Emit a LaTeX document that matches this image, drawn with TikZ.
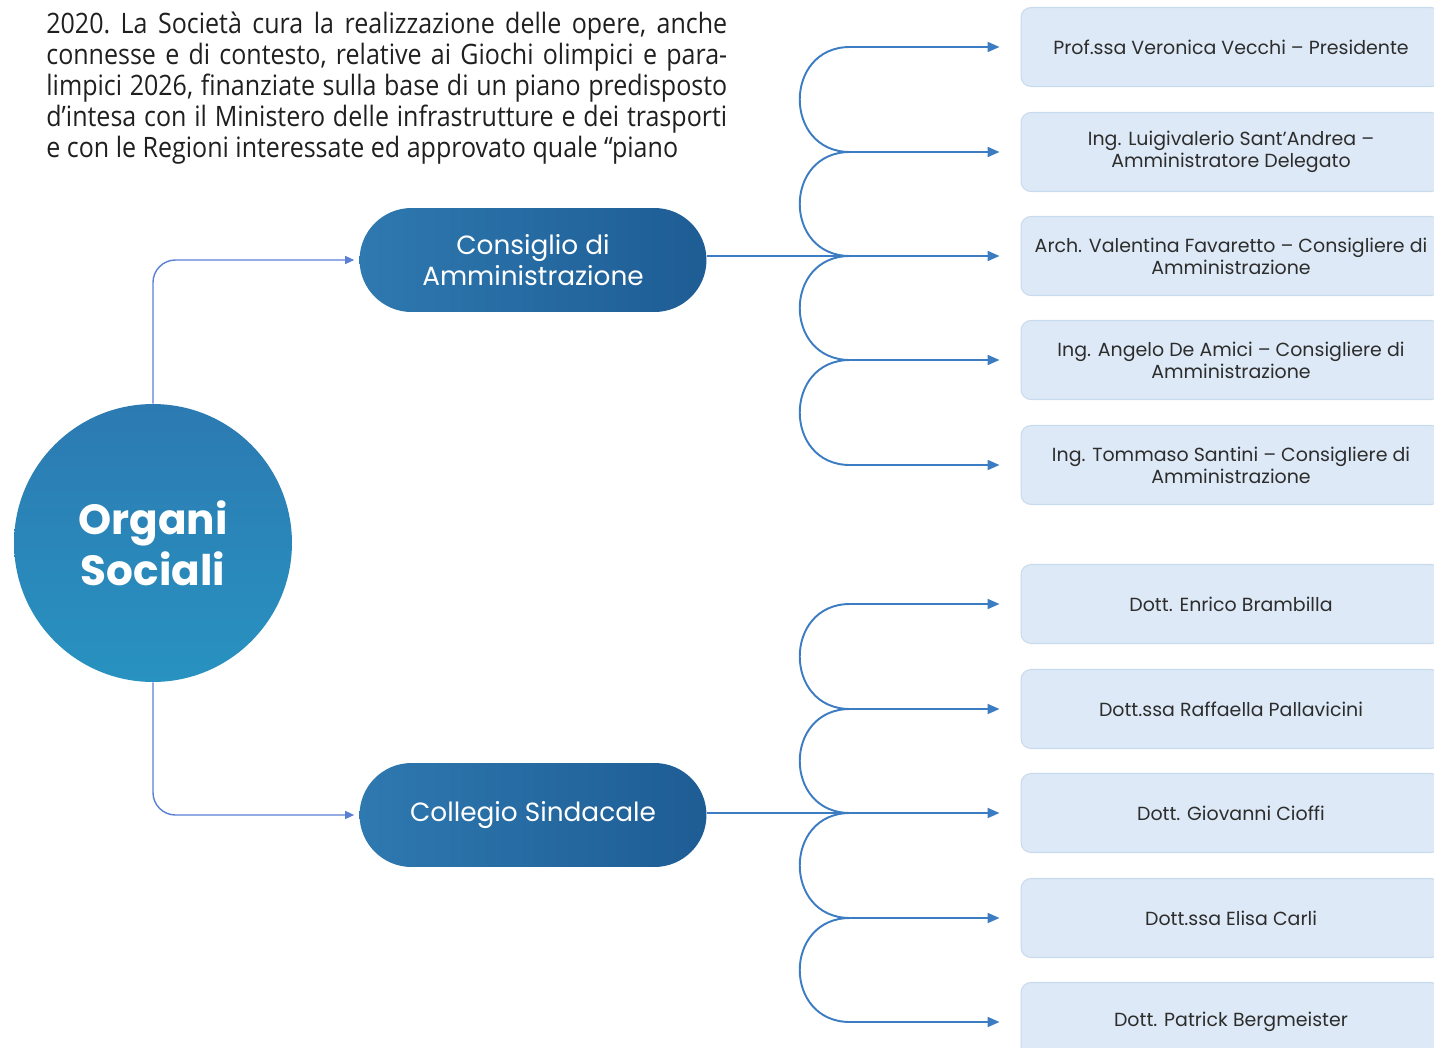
\documentclass[tikz,border=0pt]{standalone}
\usepackage{fontspec}
\setmainfont{Poppins}
\newfontfamily\parafont[FakeStretch=0.89]{Open Sans}
\usetikzlibrary{arrows.meta, positioning, calc}
\definecolor{linkblue}{RGB}{60,124,194}
\definecolor{feedblue}{RGB}{90,127,212}
\definecolor{pillleft}{RGB}{46,121,176}
\definecolor{pillright}{RGB}{30,92,148}
\definecolor{orbtop}{RGB}{44,122,178}
\definecolor{orbbottom}{RGB}{40,146,192}
\definecolor{memberfill}{RGB}{221,233,246}
\definecolor{memberdraw}{RGB}{200,219,238}
\definecolor{inkgray}{RGB}{45,45,45}

\begin{document}
\begin{tikzpicture}[
			x=0.02cm, y=-0.02cm,
			orb/.style={circle, minimum size=5.56cm, inner sep=0pt, top color=orbtop, bottom color=orbbottom, text=white, align=center, font=\fontsize{24}{29}\selectfont\bfseries},
			pill/.style={rectangle, rounded corners=1.04cm, minimum width=6.94cm, minimum height=2.08cm, left color=pillleft, right color=pillright, text=white, align=center, font=\fontsize{15}{17.6}\selectfont},
			member/.style={rectangle, rounded corners=0.2cm, minimum width=8.4cm, minimum height=1.58cm, fill=memberfill, draw=memberdraw, line width=0.6pt, text=inkgray, align=center, font=\fontsize{10.8}{12.5}\selectfont},
			link/.style={draw=linkblue, line width=1.1pt, -{Triangle[length=2.4mm, width=2mm]}, shorten >=0.42cm},
			curl/.style={draw=linkblue, line width=1.1pt},
			feed/.style={draw=feedblue, line width=0.8pt, rounded corners=0.45cm, -{Triangle[length=1.8mm, width=1.6mm]}, shorten >=0.1cm}
		]
		\path[use as bounding box, clip] (0,0) rectangle (1434,1048);
		
		\node[anchor=north west, inner sep=0pt, text width=13.62cm, align=justify, text=black!88, font=\parafont\fontsize{16}{17.6}\selectfont\frenchspacing] (para) at (46,12) {2020. La Società cura la realizzazione delle opere, anche\linebreak connesse e di contesto, relative ai Giochi olimpici e para-\linebreak limpici 2026, finanziate sulla base di un piano predisposto\linebreak d’intesa con il Ministero delle infrastrutture e dei trasporti\linebreak e con le Regioni interessate ed approvato quale “piano};
		
		\node[orb] (org) at (153,543) {Organi\\Sociali};
		\node[pill] (cda) at (533,260) {Consiglio di\\Amministrazione};
		\node[pill] (cs) at (533,815) {Collegio Sindacale};
		
		% Consiglio members
		\node[member] (b1) at (1231,47) {Prof.ssa Veronica Vecchi -- Presidente};
		\node[member] (b2) at (1231,152) {Ing. Luigivalerio Sant’Andrea --\\Amministratore Delegato};
		\node[member] (b3) at (1231,256) {Arch. Valentina Favaretto -- Consigliere di\\Amministrazione};
		\node[member] (b4) at (1231,360) {Ing. Angelo De Amici -- Consigliere di\\Amministrazione};
		\node[member] (b5) at (1231,465) {Ing. Tommaso Santini -- Consigliere di\\Amministrazione};
		
		% Collegio members
		\node[member] (b6) at (1231,604) {Dott. Enrico Brambilla};
		\node[member] (b7) at (1231,709) {Dott.ssa Raffaella Pallavicini};
		\node[member] (b8) at (1231,813) {Dott. Giovanni Cioffi};
		\node[member] (b9) at (1231,918) {Dott.ssa Elisa Carli};
		\node[member] (b10) at (1231,1022) {Dott. Patrick Bergmeister};
		
		\coordinate (jx) at (850,0);
		\coordinate (j1) at (jx |- b1.west);
		\coordinate (j2) at (jx |- b2.west);
		\coordinate (j3) at (jx |- b3.west);
		\coordinate (j4) at (jx |- b4.west);
		\coordinate (j5) at (jx |- b5.west);
		\coordinate (j6) at (jx |- b6.west);
		\coordinate (j7) at (jx |- b7.west);
		\coordinate (j8) at (jx |- b8.west);
		\coordinate (j9) at (jx |- b9.west);
		\coordinate (j10) at (jx |- b10.west);
		
		\draw[feed] (org.north) |- (cda.west);
		\draw[feed] (org.south) |- (cs.west);
		
		\draw[link] (cda.east |- j3) -- (b3);
		\draw[link] (cs.east |- j8) -- (b8);
		
		\draw[curl] (j1) .. controls +(-67,0) and +(-67,0) .. (j2);
		\draw[curl] (j2) .. controls +(-67,0) and +(-67,0) .. (j3);
		\draw[curl] (j3) .. controls +(-67,0) and +(-67,0) .. (j4);
		\draw[curl] (j4) .. controls +(-67,0) and +(-67,0) .. (j5);
		\draw[curl] (j6) .. controls +(-67,0) and +(-67,0) .. (j7);
		\draw[curl] (j7) .. controls +(-67,0) and +(-67,0) .. (j8);
		\draw[curl] (j8) .. controls +(-67,0) and +(-67,0) .. (j9);
		\draw[curl] (j9) .. controls +(-67,0) and +(-67,0) .. (j10);
		
		\draw[link] (j1) -- (b1);
		\draw[link] (j2) -- (b2);
		\draw[link] (j4) -- (b4);
		\draw[link] (j5) -- (b5);
		\draw[link] (j6) -- (b6);
		\draw[link] (j7) -- (b7);
		\draw[link] (j9) -- (b9);
		\draw[link] (j10) -- (b10);
		\end{tikzpicture}
\end{document}
